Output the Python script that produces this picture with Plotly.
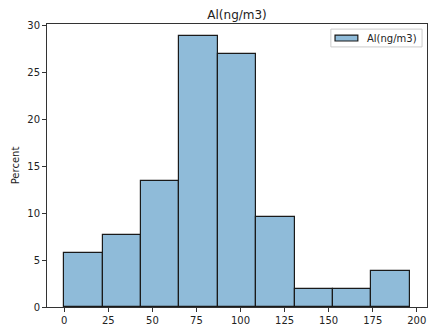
import plotly.graph_objects as go

# Histogram of Al concentration (ng/m3): 9 equal-width bins, heights in percent
bin_edges = [0.0, 21.78, 43.56, 65.33, 87.11, 108.89, 130.67, 152.44, 174.22, 196.0]
percent = [5.77, 7.69, 13.46, 28.85, 26.92, 9.62, 1.92, 1.92, 3.85]
series_name = "Al(ng/m3)"
x_ticks = [0, 25, 50, 75, 100, 125, 150, 175, 200]
y_ticks = [0, 5, 10, 15, 20, 25, 30]

centers = [(a + b) / 2 for a, b in zip(bin_edges[:-1], bin_edges[1:])]
widths = [b - a for a, b in zip(bin_edges[:-1], bin_edges[1:])]

fill = "rgba(31,119,180,0.5)"
edge = "#1a1a1a"
axis_col = "#333333"
font = "DejaVu Sans"

fig = go.Figure()
fig.add_trace(go.Bar(
    x=centers, y=percent, width=widths,
    marker=dict(color=fill, line=dict(color=edge, width=1.2)),
    name=series_name, showlegend=False,
))

axis_common = dict(
    showgrid=False, zeroline=False, showline=True, mirror=True,
    linecolor=axis_col, linewidth=1, ticks="outside", ticklen=4,
    tickcolor=axis_col, tickfont=dict(family=font, size=10, color="#222"),
)

fig.update_layout(
    width=431, height=331,
    margin=dict(l=47, r=4, t=24, b=24),
    paper_bgcolor="white", plot_bgcolor="white",
    title=dict(text=series_name, x=0.55, xanchor="center", y=0.956, yanchor="middle",
               font=dict(family=font, size=12, color="#222")),
    xaxis=dict(range=[-9.8, 205.8], tickvals=x_ticks, **axis_common),
    yaxis=dict(range=[0, 30.17], tickvals=y_ticks,
               title=dict(text="Percent", standoff=5,
                          font=dict(family=font, size=10, color="#222")),
               **axis_common),
    bargap=0,
)

# Legend box drawn in the upper-right corner of the axes
fig.add_shape(type="rect", xref="paper", yref="paper",
              x0=0.747, x1=0.987, y0=0.919, y1=0.982,
              line=dict(color="#cccccc", width=1), fillcolor="rgba(255,255,255,0.8)")
fig.add_shape(type="rect", xref="paper", yref="paper",
              x0=0.758, x1=0.818, y0=0.940, y1=0.961,
              line=dict(color=edge, width=1.2), fillcolor=fill)
fig.add_annotation(xref="paper", yref="paper", x=0.837, y=0.9505,
                   xanchor="left", yanchor="middle", showarrow=False,
                   text=series_name, font=dict(family=font, size=10, color="#222"))

fig.write_html("out.html")
